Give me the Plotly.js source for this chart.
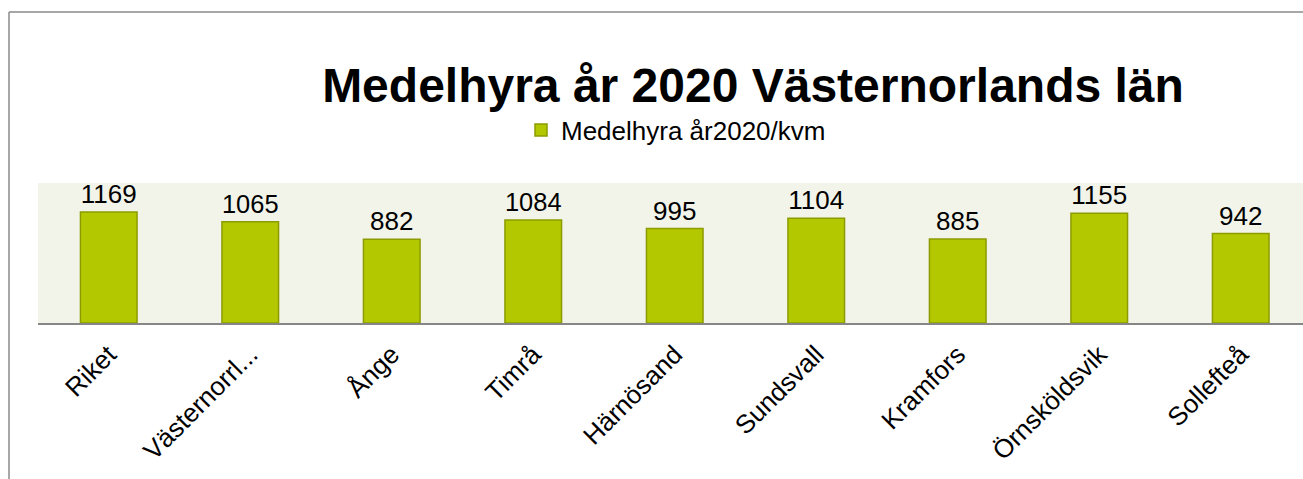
<!DOCTYPE html>
<html>
<head>
<meta charset="utf-8">
<script src="https://cdn.plot.ly/plotly-3.0.1.min.js"></script>
<style>html,body{margin:0;padding:0;background:#fff;}#chart{width:1303px;height:479px;}</style>
</head>
<body>
<div id="chart"></div>
<script>
const categories = ["Riket", "Västernorrl...", "Ånge", "Timrå", "Härnösand", "Sundsvall", "Kramfors", "Örnsköldsvik", "Sollefteå"];
const values = [1169, 1065, 882, 1084, 995, 1104, 885, 1155, 942];
const seriesName = "Medelhyra år2020/kvm";
const chartTitle = "Medelhyra år 2020 Västernorlands län";

const W = 1303, H = 479;
const L = 38, T = 183, B = 156;
const plotH = H - T - B;
function px2x(px){ return (px - L) / (W - L); }
function px2y(py){ return (H - B - py) / plotH; }

const trace = {
  type: "bar",
  x: categories,
  y: values,
  name: seriesName,
  width: 0.40,
  marker: {color: "#B4C800", line: {color: "#8C9C00", width: 1.5}},
  text: values.map(String),
  textposition: "outside",
  cliponaxis: false,
  textfont: {family: "Liberation Sans, Arial, sans-serif", size: 26, color: "#000"},
  showlegend: true
};

const layout = {
  width: W, height: H,
  margin: {l: L, r: 0, t: T, b: B, pad: 0},
  paper_bgcolor: "#fff",
  plot_bgcolor: "#F2F4EA",
  font: {family: "Liberation Sans, Arial, sans-serif", color: "#000"},
  title: {
    text: "<b>" + chartTitle + "</b>",
    font: {size: 48, color: "#000"},
    x: 753 / W, xref: "container", xanchor: "center",
    y: 1 - 85 / H, yref: "container", yanchor: "middle"
  },
  showlegend: true,
  legend: {
    orientation: "h",
    x: px2x(521), xanchor: "left",
    y: px2y(130), yanchor: "middle",
    font: {size: 26},
    bgcolor: "rgba(0,0,0,0)",
    itemwidth: 30
  },
  xaxis: {
    type: "category",
    range: [-0.5, 8.44],
    tickangle: -45,
    tickfont: {size: 26},
    ticklabelstandoff: 4,
    showline: true, linecolor: "#868686", linewidth: 2,
    ticks: "", showgrid: false, zeroline: false,
    fixedrange: true
  },
  yaxis: {
    range: [0, 1474],
    showticklabels: false, showgrid: false, zeroline: false,
    ticks: "", showline: false
  },
  bargap: 0.6,
  shapes: [
    {type: "line", xref: "paper", yref: "paper", x0: px2x(9), x1: px2x(1303), y0: px2y(12), y1: px2y(12), line: {color: "#8A8A8A", width: 1.5}},
    {type: "line", xref: "paper", yref: "paper", x0: px2x(9), x1: px2x(9), y0: px2y(12), y1: px2y(479), line: {color: "#8A8A8A", width: 1.5}}
  ]
};

Plotly.newPlot("chart", [trace], layout, {displayModeBar: false, staticPlot: true});
</script>
</body>
</html>
